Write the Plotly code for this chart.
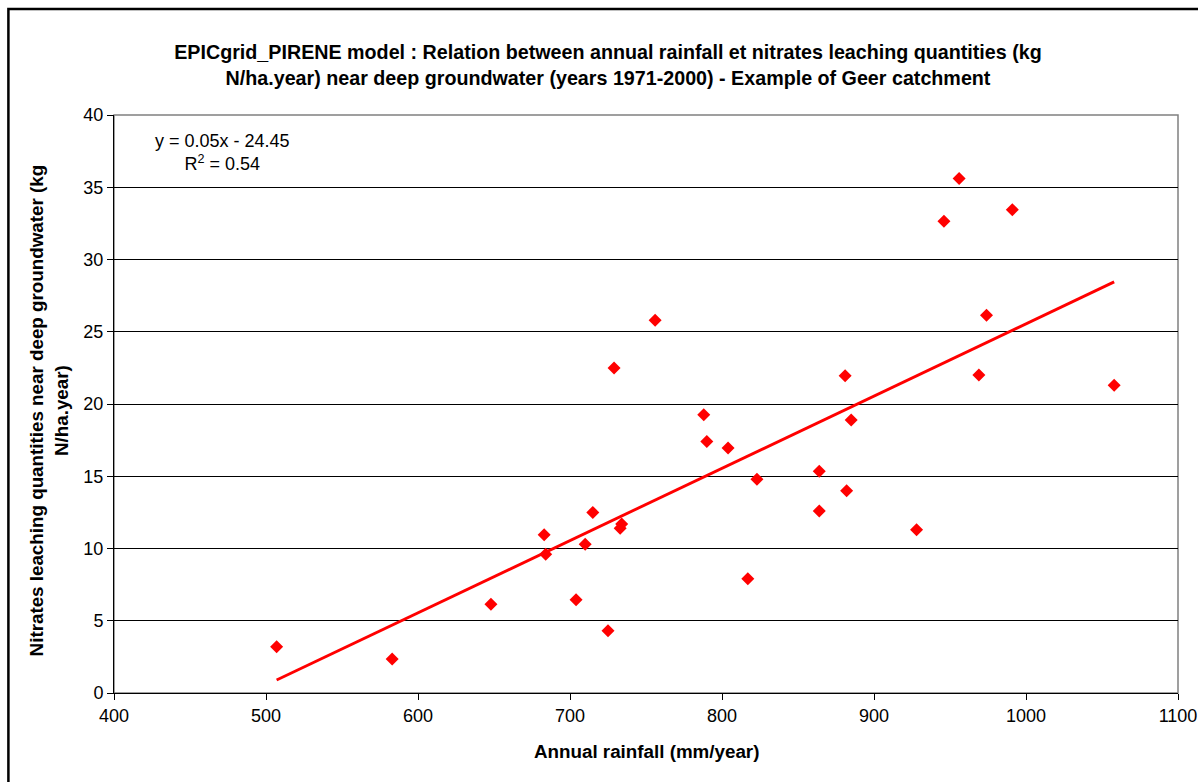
import plotly.graph_objects as go

# Annual rainfall (mm/year) and nitrate leaching (kg N/ha.year), Geer catchment, 1971-2000
rainfall = [507, 583, 648, 683, 684, 704, 710, 715, 725, 729,
            733, 734, 756, 788, 790, 804, 817, 823, 864, 864,
            881, 882, 885, 928, 946, 956, 969, 974, 991, 1058]
leaching = [3.2, 2.35, 6.15, 10.95, 9.6, 6.45, 10.3, 12.5, 4.3, 22.5,
            11.4, 11.7, 25.8, 19.25, 17.4, 16.95, 7.9, 14.8, 12.6, 15.35,
            21.95, 14.0, 18.9, 11.3, 32.65, 35.6, 22.0, 26.15, 33.45, 21.3]

# Linear trend as given by the equation label
slope = 0.05
intercept = -24.45
x_trend = [min(rainfall), max(rainfall)]
y_trend = [slope * v + intercept for v in x_trend]

x_ticks = [400, 500, 600, 700, 800, 900, 1000, 1100]
y_ticks = [0, 5, 10, 15, 20, 25, 30, 35, 40]

FONT = "Liberation Sans, Arial, sans-serif"
W, H = 1198, 782
L, R, T, B = 113.6, 20.4, 115, 89
pw, ph = W - L - R, H - T - B


def px_x(p):
    return (p - L) / pw


def px_y(p):
    return (H - B - p) / ph


fig = go.Figure()

fig.add_trace(go.Scatter(
    x=rainfall, y=leaching, mode="markers",
    marker=dict(symbol="diamond", size=10, color="#FF0000", line=dict(width=0)),
    showlegend=False, hoverinfo="x+y",
))

fig.add_trace(go.Scatter(
    x=x_trend, y=y_trend, mode="lines",
    line=dict(color="#FF0000", width=2.9),
    showlegend=False, hoverinfo="skip",
))

fig.update_layout(
    width=W, height=H,
    margin=dict(l=L, r=R, t=T, b=B, autoexpand=False),
    paper_bgcolor="white", plot_bgcolor="white",
    font=dict(family=FONT, size=17, color="black"),
    title=dict(
        text="<b>EPICgrid_PIRENE model : Relation between annual rainfall et nitrates leaching quantities (kg<br>"
             "N/ha.year) near deep groundwater (years 1971-2000) - Example of Geer catchment</b>",
        xref="container", yref="container", x=608 / W, y=1 - 59 / H,
        xanchor="center", yanchor="middle",
        font=dict(family=FONT, size=19.7, color="black"),
    ),
    xaxis=dict(
        range=[400, 1100], tickvals=x_ticks, ticktext=[str(v) for v in x_ticks],
        showgrid=False, zeroline=False,
        showline=True, linecolor="#000000", linewidth=1,
        ticks="outside", ticklen=6, tickcolor="black", tickwidth=1,
        tickfont=dict(family=FONT, size=18, color="black"),
    ),
    yaxis=dict(
        range=[0, 40], tickvals=y_ticks, ticktext=[str(v) for v in y_ticks],
        showgrid=True, gridcolor="#000000", gridwidth=1, zeroline=False,
        showline=True, linecolor="#000000", linewidth=1,
        ticks="outside", ticklen=6, tickcolor="black", tickwidth=1,
        tickfont=dict(family=FONT, size=18, color="black"),
    ),
    shapes=[
        # plot area frame
        dict(type="rect", xref="paper", yref="paper", x0=0, x1=1, y0=0, y1=1,
             line=dict(color="#808080", width=1.5), layer="below"),
        # outer chart border
        dict(type="rect", xref="paper", yref="paper",
             x0=px_x(8), x1=px_x(W + 20), y0=px_y(H + 20), y1=px_y(9),
             line=dict(color="black", width=2.5)),
    ],
    annotations=[
        dict(text="y = 0.05x - 24.45<br>R<sup>2</sup> = 0.54",
             xref="paper", yref="paper", x=px_x(222), y=px_y(152),
             xanchor="center", yanchor="middle", align="center", showarrow=False,
             font=dict(family=FONT, size=18, color="black")),
        dict(text="<b>Annual rainfall (mm/year)</b>",
             xref="paper", yref="paper", x=0.5, y=px_y(752),
             xanchor="center", yanchor="middle", showarrow=False,
             font=dict(family=FONT, size=18.8, color="black")),
        dict(text="<b>Nitrates leaching quantities near deep groundwater (kg<br>N/ha.year)</b>",
             xref="paper", yref="paper", x=px_x(49), y=px_y(410),
             xanchor="center", yanchor="middle", align="center", showarrow=False,
             textangle=-90,
             font=dict(family=FONT, size=18.8, color="black")),
    ],
)

fig.write_html("out.html")
